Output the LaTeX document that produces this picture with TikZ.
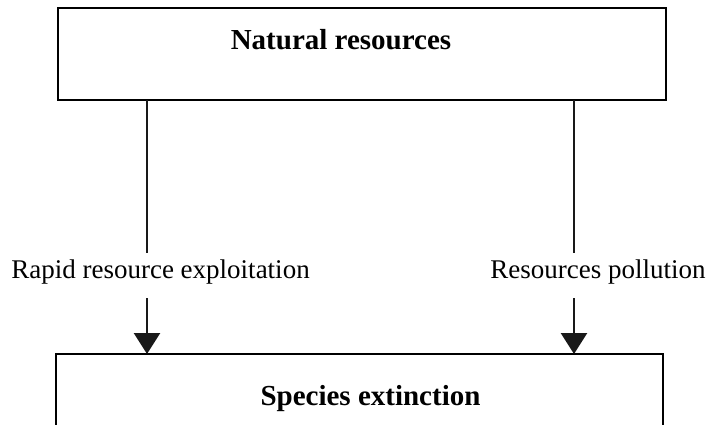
\documentclass[tikz,border=0pt]{standalone}
\usepackage{fontspec}
\setmainfont{Liberation Serif}
\usetikzlibrary{arrows.meta, positioning}

\begin{document}
\begin{tikzpicture}[
  x=1pt, y=-1pt,
  box/.style={
    draw, line width=2.6pt, fill=white,
    inner sep=0pt, outer sep=0pt
  },
  title/.style={
    font=\fontsize{29}{32}\selectfont\bfseries, anchor=base
  },
  cause/.style={
    font=\fontsize{27}{30}\selectfont, anchor=base,
    inner sep=6pt, text depth=14pt
  },
  link/.style={line width=2.6pt, draw=black!90},
  arr/.style={link, -{Triangle[length=21pt, width=26pt]}}
]
  \useasboundingbox (0,0) rectangle (712,425);
  \clip (0,0) rectangle (712,425);

  % boxes
  \node[box, minimum width=608pt, minimum height=92pt] (nat) at (362,54) {};
  \node[title] (natlbl) at (341,50) {Natural resources};
  \node[box, minimum width=607pt, minimum height=110pt] (ext) at (359.5,409) {};
  \node[title] (extlbl) at (370.5,405) {Species extinction};

  % causes
  \node[cause] (expl) at (160.5,278) {Rapid resource exploitation};
  \node[cause] (poll) at (598,278) {Resources pollution};
  \coordinate (lx) at (147,0);
  \coordinate (rx) at (574,0);

  \draw[link] (nat.south -| lx) -- (expl.north -| lx);
  \draw[arr] (expl.south -| lx) -- (ext.north -| lx);
  \draw[link] (nat.south -| rx) -- (poll.north -| rx);
  \draw[arr] (poll.south -| rx) -- (ext.north -| rx);
\end{tikzpicture}
\end{document}
